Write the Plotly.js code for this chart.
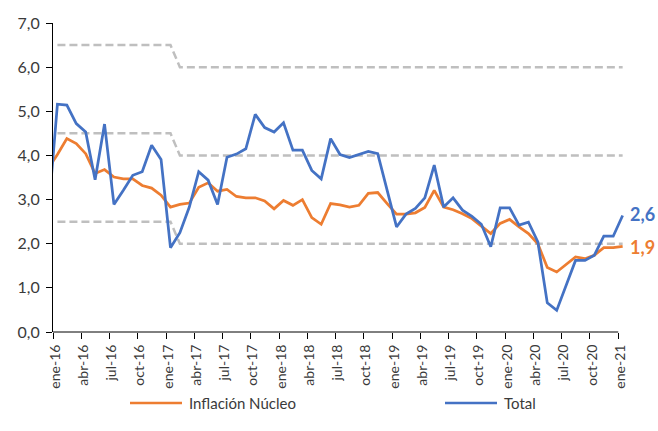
<!DOCTYPE html>
<html>
<head>
<meta charset="utf-8">
<script src="https://cdn.plot.ly/plotly-3.0.1.min.js"></script>
<style>
  html, body { margin: 0; padding: 0; background: #fff; }
  #chart { width: 658px; height: 431px; }
</style>
</head>
<body>
<div id="chart"></div>
<script>
// Months (first one, dic-15, lies just left of the axis and is clipped)
const months = ['dic-15',
  'ene-16','feb-16','mar-16','abr-16','may-16','jun-16','jul-16','ago-16','sep-16','oct-16','nov-16','dic-16',
  'ene-17','feb-17','mar-17','abr-17','may-17','jun-17','jul-17','ago-17','sep-17','oct-17','nov-17','dic-17',
  'ene-18','feb-18','mar-18','abr-18','may-18','jun-18','jul-18','ago-18','sep-18','oct-18','nov-18','dic-18',
  'ene-19','feb-19','mar-19','abr-19','may-19','jun-19','jul-19','ago-19','sep-19','oct-19','nov-19','dic-19',
  'ene-20','feb-20','mar-20','abr-20','may-20','jun-20','jul-20','ago-20','sep-20','oct-20','nov-20','dic-20',
  'ene-21'];

const inflacionNucleo = [3.70,
  4.02,4.38,4.27,4.04,3.59,3.68,3.51,3.47,3.47,3.32,3.26,3.10,
  2.83,2.89,2.92,3.28,3.38,3.19,3.23,3.07,3.04,3.04,2.97,2.79,
  2.98,2.87,3.00,2.59,2.44,2.91,2.88,2.83,2.87,3.14,3.16,2.91,
  2.67,2.67,2.70,2.82,3.21,2.83,2.77,2.68,2.57,2.40,2.23,2.46,
  2.55,2.38,2.23,2.00,1.46,1.36,1.53,1.70,1.66,1.74,1.91,1.91,
  1.94];

const total = [2.60,
  5.16,5.14,4.72,4.53,3.45,4.71,2.89,3.21,3.55,3.63,4.23,3.91,
  1.91,2.25,2.83,3.63,3.44,2.89,3.96,4.03,4.15,4.93,4.63,4.53,
  4.74,4.12,4.12,3.66,3.47,4.38,4.02,3.95,4.02,4.09,4.04,3.21,
  2.38,2.67,2.80,3.04,3.78,2.83,3.04,2.76,2.62,2.44,1.93,2.81,
  2.81,2.42,2.49,2.04,0.66,0.49,1.06,1.62,1.62,1.74,2.17,2.17,
  2.64];

const rangoSuperior = [null,
  6.5,6.5,6.5,6.5,6.5,6.5,6.5,6.5,6.5,6.5,6.5,6.5,
  6.5,6.0,6.0,6.0,6.0,6.0,6.0,6.0,6.0,6.0,6.0,6.0,
  6.0,6.0,6.0,6.0,6.0,6.0,6.0,6.0,6.0,6.0,6.0,6.0,
  6.0,6.0,6.0,6.0,6.0,6.0,6.0,6.0,6.0,6.0,6.0,6.0,
  6.0,6.0,6.0,6.0,6.0,6.0,6.0,6.0,6.0,6.0,6.0,6.0,
  6.0];

const meta = [null,
  4.5,4.5,4.5,4.5,4.5,4.5,4.5,4.5,4.5,4.5,4.5,4.5,
  4.5,4.0,4.0,4.0,4.0,4.0,4.0,4.0,4.0,4.0,4.0,4.0,
  4.0,4.0,4.0,4.0,4.0,4.0,4.0,4.0,4.0,4.0,4.0,4.0,
  4.0,4.0,4.0,4.0,4.0,4.0,4.0,4.0,4.0,4.0,4.0,4.0,
  4.0,4.0,4.0,4.0,4.0,4.0,4.0,4.0,4.0,4.0,4.0,4.0,
  4.0];

const rangoInferior = [null,
  2.5,2.5,2.5,2.5,2.5,2.5,2.5,2.5,2.5,2.5,2.5,2.5,
  2.5,2.0,2.0,2.0,2.0,2.0,2.0,2.0,2.0,2.0,2.0,2.0,
  2.0,2.0,2.0,2.0,2.0,2.0,2.0,2.0,2.0,2.0,2.0,2.0,
  2.0,2.0,2.0,2.0,2.0,2.0,2.0,2.0,2.0,2.0,2.0,2.0,
  2.0,2.0,2.0,2.0,2.0,2.0,2.0,2.0,2.0,2.0,2.0,2.0,
  2.0];

const tickLabels = ['ene-16','abr-16','jul-16','oct-16','ene-17','abr-17','jul-17','oct-17',
  'ene-18','abr-18','jul-18','oct-18','ene-19','abr-19','jul-19','oct-19',
  'ene-20','abr-20','jul-20','oct-20','ene-21'];

const seriesNames = ['Inflación Núcleo', 'Total'];
const yTicks = [0,1,2,3,4,5,6,7];

// ---- build ----
const ORANGE = '#ED7D31', BLUE = '#4472C4', GREY = '#BFBFBF', TXT = '#3a3a3a';
const FONT = 'Lato, "Open Sans", sans-serif';
const x = months.map((m, k) => k - 1);           // ene-16 -> 0
const tickPos = tickLabels.map((t, k) => 3 * k - 0.47);

function bandTrace(vals) {
  return { x: x, y: vals, mode: 'lines', type: 'scatter', showlegend: false, hoverinfo: 'skip',
           line: { color: GREY, width: 2.5, dash: '8px,4px' } };
}

const traces = [
  bandTrace(rangoSuperior), bandTrace(meta), bandTrace(rangoInferior),
  { x: x, y: inflacionNucleo, name: seriesNames[0], mode: 'lines', type: 'scatter',
    line: { color: ORANGE, width: 2.75 } },
  { x: x, y: total, name: seriesNames[1], mode: 'lines', type: 'scatter',
    line: { color: BLUE, width: 2.75 } }
];

const M = { l: 53, r: 33, t: 23, b: 99 };
const W = 658, H = 431;
const pw = W - M.l - M.r, ph = H - M.t - M.b;
const px2x = px => (px - M.l) / pw;
const py2y = py => (H - M.b - py) / ph;

const fmt = v => v.toFixed(1).replace('.', ',');
const lastT = total[total.length - 1], lastN = inflacionNucleo[inflacionNucleo.length - 1];

const legendY = py2y(403);
const shapes = [
  // x axis line ends at the last tick, like the reference
  { type: 'line', xref: 'x', yref: 'paper', x0: tickPos[0], x1: tickPos[tickPos.length - 1], y0: 0, y1: 0,
    line: { color: '#000', width: 1 } },
  { type: 'line', xref: 'paper', yref: 'paper', x0: px2x(130), x1: px2x(182), y0: legendY, y1: legendY,
    line: { color: ORANGE, width: 2.5 } },
  { type: 'line', xref: 'paper', yref: 'paper', x0: px2x(445), x1: px2x(497), y0: legendY, y1: legendY,
    line: { color: BLUE, width: 2.5 } }
];

const annotations = [
  { x: 60, y: lastT, xref: 'x', yref: 'y', text: '<b>' + fmt(lastT) + '</b>', showarrow: false,
    xanchor: 'left', yanchor: 'middle', xshift: 5, yshift: 1, font: { family: FONT, size: 18, color: BLUE } },
  { x: 60, y: lastN, xref: 'x', yref: 'y', text: '<b>' + fmt(lastN) + '</b>', showarrow: false,
    xanchor: 'left', yanchor: 'middle', xshift: 5, yshift: -1, font: { family: FONT, size: 18, color: ORANGE } },
  { x: px2x(187), y: legendY, xref: 'paper', yref: 'paper', text: seriesNames[0], showarrow: false,
    xanchor: 'left', yanchor: 'middle', font: { family: FONT, size: 15, color: TXT } },
  { x: px2x(502), y: legendY, xref: 'paper', yref: 'paper', text: seriesNames[1], showarrow: false,
    xanchor: 'left', yanchor: 'middle', font: { family: FONT, size: 15, color: TXT } }
];

const layout = {
  width: W, height: H,
  margin: M,
  paper_bgcolor: '#fff', plot_bgcolor: '#fff',
  showlegend: false,
  separators: ',.',
  font: { family: FONT, size: 14, color: TXT },
  xaxis: {
    range: [-0.47, 60.25],
    tickmode: 'array', tickvals: tickPos, ticktext: tickLabels,
    tickangle: -90, ticklabelshift: 2,
    ticks: 'outside', ticklen: 6, tickcolor: '#000', tickwidth: 1,
    showline: false,
    showgrid: false, zeroline: false,
    tickfont: { family: FONT, size: 14, color: TXT }
  },
  yaxis: {
    range: [0, 7],
    tickmode: 'array', tickvals: yTicks, tickformat: '.1f',
    ticks: 'outside', ticklen: 6, tickcolor: '#000', tickwidth: 1,
    ticklabelstandoff: 3,
    showline: true, linecolor: '#000', linewidth: 1,
    showgrid: false, zeroline: false,
    tickfont: { family: FONT, size: 16, color: TXT }
  },
  shapes: shapes,
  annotations: annotations
};

Plotly.newPlot('chart', traces, layout, { displayModeBar: false, staticPlot: true });
</script>
</body>
</html>
